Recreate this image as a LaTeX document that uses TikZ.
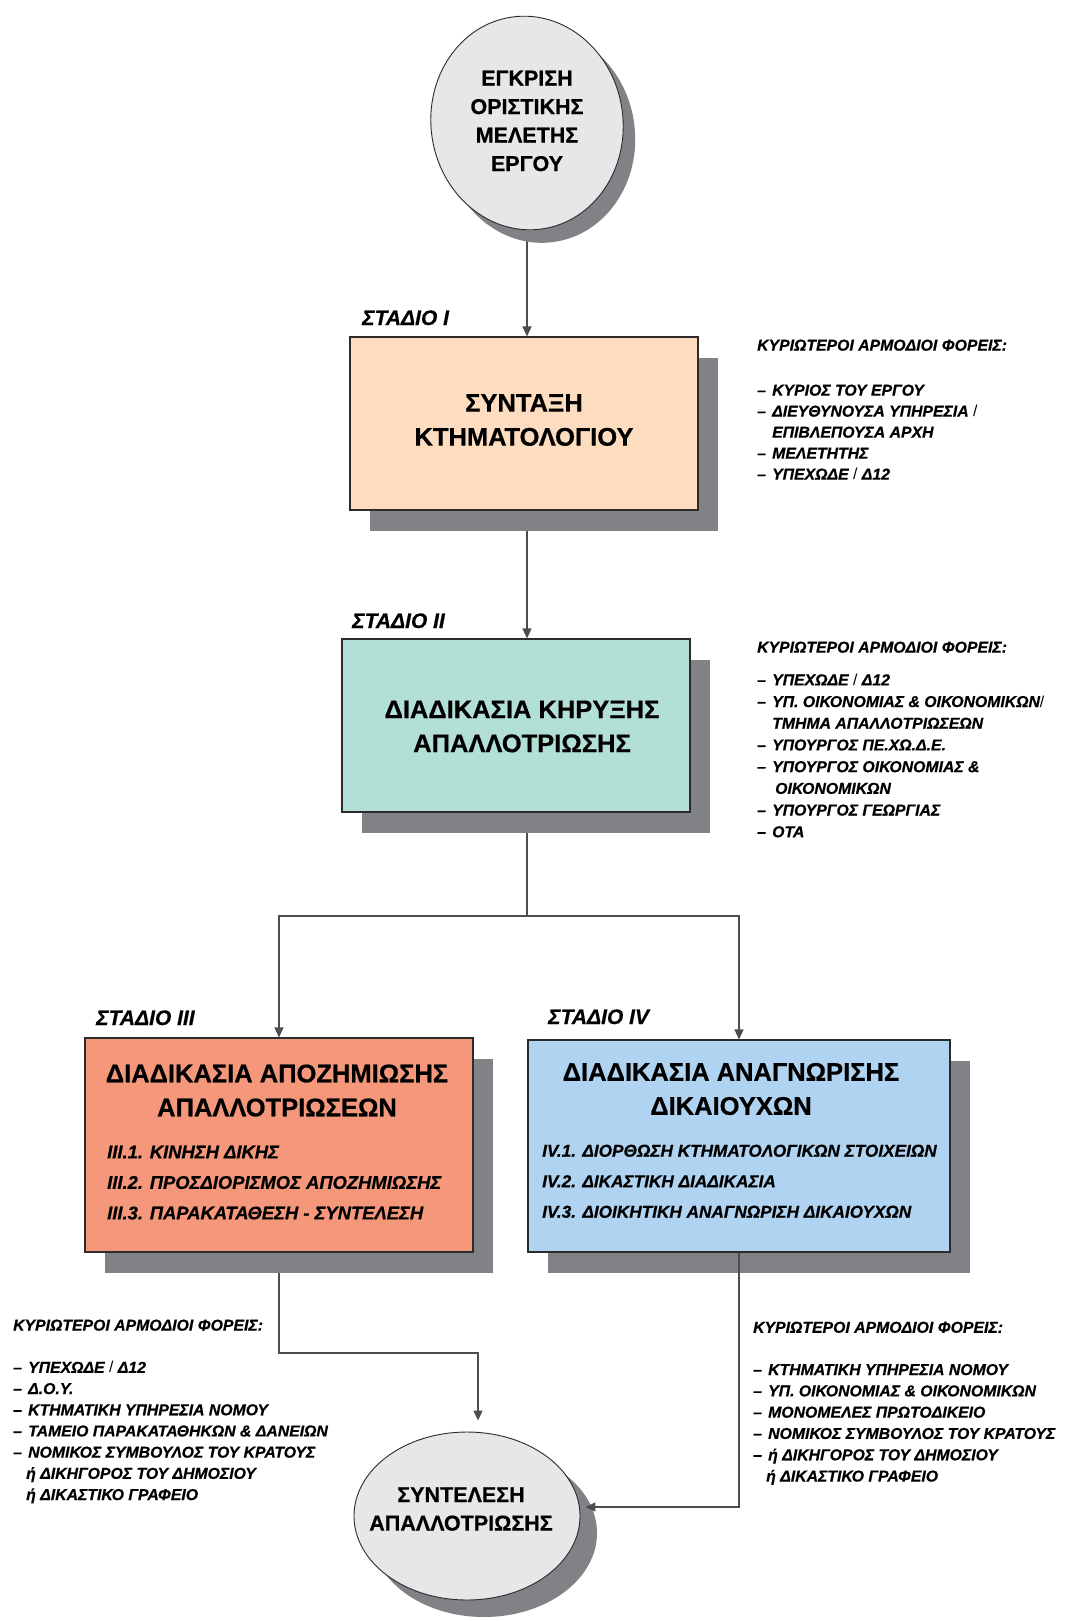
\documentclass[tikz,border=0pt]{standalone}
\usepackage{fontspec}
\setmainfont{Liberation Sans}[BoldFeatures={FakeBold=0.6}, BoldItalicFeatures={FakeBold=0.6}]
\usetikzlibrary{shapes.geometric,shadows,arrows.meta,calc}

\definecolor{peach}{HTML}{FDDCC0}
\definecolor{mint}{HTML}{B2DFD6}
\definecolor{salmon}{HTML}{F4977A}
\definecolor{skyblue}{HTML}{AFD3F0}
\definecolor{shade}{HTML}{808285}
\definecolor{disc}{HTML}{E6E7E8}
\definecolor{wire}{HTML}{4D4D4F}
\definecolor{edge}{HTML}{2B2B2B}

\pgfdeclarelayer{paper}
\pgfdeclarelayer{background}
\pgfsetlayers{paper,background,main}

% dash and indent for the lists of bodies
\newcommand\ditem{\makebox[15pt][l]{–}}
\newcommand\citem{\hspace*{15pt}}
\newcommand\slashmark{{\mdseries\upshape /}}

\tikzset{
  wirearrow/.style={draw=wire, line width=1.3pt, -{Triangle[length=10pt,width=9pt]}},
  wireline/.style={draw=wire, line width=1.3pt},
  stagebox/.style={draw=edge, line width=1.1pt, inner sep=0pt,
    drop shadow={shadow xshift=20pt, shadow yshift=-21pt, fill=shade, opacity=1}},
  discshape/.style={ellipse, draw=edge, line width=0.9pt, fill=disc, inner sep=0pt},
  titletext/.style={align=center, inner sep=0pt, font=\bfseries\fontsize{25.5}{34}\selectfont},
  disctext/.style={align=center, inner sep=0pt, font=\bfseries\fontsize{21.5}{28.5}\selectfont},
  stagelabel/.style={anchor=base west, inner sep=0pt, font=\bfseries\itshape\fontsize{21}{25}\selectfont},
  substeps/.style={anchor=north west, align=left, inner sep=0pt, font=\bfseries\itshape\fontsize{18.4}{30.5}\selectfont},
  bodies/.style={anchor=north west, align=left, inner sep=0pt, font=\bfseries\itshape\fontsize{15.8}{21}\selectfont},
}

\begin{document}
\begin{tikzpicture}[x=1pt,y=-1pt]
\useasboundingbox (0,0) rectangle (1080,1621);
\begin{pgfonlayer}{paper}
  \fill[white] (0,0) rectangle (1080,1621);
\end{pgfonlayer}

% start and end discs
\node[discshape, minimum width=192pt, minimum height=214pt, rotate=8,
      drop shadow={shadow xshift=12pt, shadow yshift=-13pt, fill=shade, opacity=1}] (top) at (527,123) {};
\node[disctext] (toptext) at (527,121) {ΕΓΚΡΙΣΗ\\ΟΡΙΣΤΙΚΗΣ\\ΜΕΛΕΤΗΣ\\ΕΡΓΟΥ};

\node[discshape, minimum width=226pt, minimum height=168pt,
      drop shadow={shadow xshift=17pt, shadow yshift=-17pt, fill=shade, opacity=1}] (fin) at (467,1516) {};
\node[disctext] (fintext) at (461,1509) {ΣΥΝΤΕΛΕΣΗ\\ΑΠΑΛΛΟΤΡΙΩΣΗΣ};

% stage boxes
\node[stagebox, fill=peach, minimum width=348pt, minimum height=173pt] (boxI) at (524,423.5) {};
\node[titletext] (boxItext) at (524,420) {ΣΥΝΤΑΞΗ\\ΚΤΗΜΑΤΟΛΟΓΙΟΥ};
\node[stagelabel] (lblI) at (362,325) {ΣΤΑΔΙΟ I};

\node[stagebox, fill=mint, minimum width=348pt, minimum height=173pt] (boxII) at (516,725.5) {};
\node[titletext] (boxIItext) at (522,726.5) {ΔΙΑΔΙΚΑΣΙΑ ΚΗΡΥΞΗΣ\\ΑΠΑΛΛΟΤΡΙΩΣΗΣ};
\node[stagelabel] (lblII) at (352,628) {ΣΤΑΔΙΟ II};

\node[stagebox, fill=salmon, minimum width=388pt, minimum height=214pt] (boxIII) at (279,1145) {};
\node[titletext] (boxIIItext) at (277,1090.5) {ΔΙΑΔΙΚΑΣΙΑ ΑΠΟΖΗΜΙΩΣΗΣ\\ΑΠΑΛΛΟΤΡΙΩΣΕΩΝ};
\node[substeps] (stepsIII) at (107,1145.5) {III.1. ΚΙΝΗΣΗ ΔΙΚΗΣ\\III.2. ΠΡΟΣΔΙΟΡΙΣΜΟΣ ΑΠΟΖΗΜΙΩΣΗΣ\\III.3. ΠΑΡΑΚΑΤΑΘΕΣΗ - ΣΥΝΤΕΛΕΣΗ};
\node[stagelabel] (lblIII) at (96,1025) {ΣΤΑΔΙΟ III};

\node[stagebox, fill=skyblue, minimum width=422pt, minimum height=212pt] (boxIV) at (739,1146) {};
\node[titletext] (boxIVtext) at (731,1089) {ΔΙΑΔΙΚΑΣΙΑ ΑΝΑΓΝΩΡΙΣΗΣ\\ΔΙΚΑΙΟΥΧΩΝ};
\node[substeps, font=\bfseries\itshape\fontsize{17.2}{30.5}\selectfont] (stepsIV) at (542,1144.5) {IV.1. ΔΙΟΡΘΩΣΗ ΚΤΗΜΑΤΟΛΟΓΙΚΩΝ ΣΤΟΙΧΕΙΩΝ\\IV.2. ΔΙΚΑΣΤΙΚΗ ΔΙΑΔΙΚΑΣΙΑ\\IV.3. ΔΙΟΙΚΗΤΙΚΗ ΑΝΑΓΝΩΡΙΣΗ ΔΙΚΑΙΟΥΧΩΝ};
\node[stagelabel] (lblIV) at (548,1024) {ΣΤΑΔΙΟ IV};

% responsible bodies
\node[bodies] (bodiesI) at (757,339.4) {ΚΥΡΙΩΤΕΡΟΙ ΑΡΜΟΔΙΟΙ ΦΟΡΕΙΣ:\\[24pt]
  \ditem ΚΥΡΙΟΣ ΤΟΥ ΕΡΓΟΥ\\
  \ditem ΔΙΕΥΘΥΝΟΥΣΑ ΥΠΗΡΕΣΙΑ \slashmark\\
  \citem ΕΠΙΒΛΕΠΟΥΣΑ ΑΡΧΗ\\
  \ditem ΜΕΛΕΤΗΤΗΣ\\
  \ditem ΥΠΕΧΩΔΕ \slashmark{} Δ12};

\node[bodies, font=\bfseries\itshape\fontsize{15.8}{21.7}\selectfont] (bodiesII) at (757,641.4) {ΚΥΡΙΩΤΕΡΟΙ ΑΡΜΟΔΙΟΙ ΦΟΡΕΙΣ:\\[11pt]
  \ditem ΥΠΕΧΩΔΕ \slashmark{} Δ12\\
  \ditem ΥΠ. ΟΙΚΟΝΟΜΙΑΣ \& ΟΙΚΟΝΟΜΙΚΩΝ\slashmark\\
  \citem ΤΜΗΜΑ ΑΠΑΛΛΟΤΡΙΩΣΕΩΝ\\
  \ditem ΥΠΟΥΡΓΟΣ ΠΕ.ΧΩ.Δ.Ε.\\
  \ditem ΥΠΟΥΡΓΟΣ ΟΙΚΟΝΟΜΙΑΣ \&\\
  \citem\hspace*{3pt}ΟΙΚΟΝΟΜΙΚΩΝ\\
  \ditem ΥΠΟΥΡΓΟΣ ΓΕΩΡΓΙΑΣ\\
  \ditem ΟΤΑ};

\node[bodies, font=\bfseries\itshape\fontsize{15.8}{21.2}\selectfont] (bodiesIII) at (13,1319.4) {ΚΥΡΙΩΤΕΡΟΙ ΑΡΜΟΔΙΟΙ ΦΟΡΕΙΣ:\\[21pt]
  \ditem ΥΠΕΧΩΔΕ \slashmark{} Δ12\\
  \ditem Δ.Ο.Υ.\\
  \ditem ΚΤΗΜΑΤΙΚΗ ΥΠΗΡΕΣΙΑ ΝΟΜΟΥ\\
  \ditem ΤΑΜΕΙΟ ΠΑΡΑΚΑΤΑΘΗΚΩΝ \& ΔΑΝΕΙΩΝ\\
  \ditem ΝΟΜΙΚΟΣ ΣΥΜΒΟΥΛΟΣ ΤΟΥ ΚΡΑΤΟΥΣ\\
  \hspace*{13pt}ή ΔΙΚΗΓΟΡΟΣ ΤΟΥ ΔΗΜΟΣΙΟΥ\\
  \hspace*{13pt}ή ΔΙΚΑΣΤΙΚΟ ΓΡΑΦΕΙΟ};

\node[bodies, font=\bfseries\itshape\fontsize{15.8}{21.3}\selectfont] (bodiesIV) at (753,1321.5) {ΚΥΡΙΩΤΕΡΟΙ ΑΡΜΟΔΙΟΙ ΦΟΡΕΙΣ:\\[21pt]
  \ditem ΚΤΗΜΑΤΙΚΗ ΥΠΗΡΕΣΙΑ ΝΟΜΟΥ\\
  \ditem ΥΠ. ΟΙΚΟΝΟΜΙΑΣ \& ΟΙΚΟΝΟΜΙΚΩΝ\\
  \ditem ΜΟΝΟΜΕΛΕΣ ΠΡΩΤΟΔΙΚΕΙΟ\\
  \ditem ΝΟΜΙΚΟΣ ΣΥΜΒΟΥΛΟΣ ΤΟΥ ΚΡΑΤΟΥΣ\\
  \ditem ή ΔΙΚΗΓΟΡΟΣ ΤΟΥ ΔΗΜΟΣΙΟΥ\\
  \hspace*{13pt}ή ΔΙΚΑΣΤΙΚΟ ΓΡΑΦΕΙΟ};

% connectors hidden behind boxes and shadows where they start
\coordinate (split) at (527,916);
\coordinate (bendIII) at (478,1353);
\begin{pgfonlayer}{background}
  \draw[wirearrow] (top.center) -- (top.center |- boxI.north);
  \draw[wirearrow] (top.center |- boxI.center) -- (top.center |- boxII.north);
  \draw[wireline] (top.center |- boxII.center) -- (split);
  \draw[wirearrow] (split) -| (boxIII.north);
  \draw[wirearrow] (split) -| (boxIV.north);
  \draw[wirearrow, shorten >=11pt] (boxIII.center) |- (bendIII) -- (bendIII |- fin.north);
\end{pgfonlayer}
\draw[wirearrow, shorten >=5pt] (boxIV.south) |- ([yshift=9pt]fin.east);
\end{tikzpicture}
\end{document}
